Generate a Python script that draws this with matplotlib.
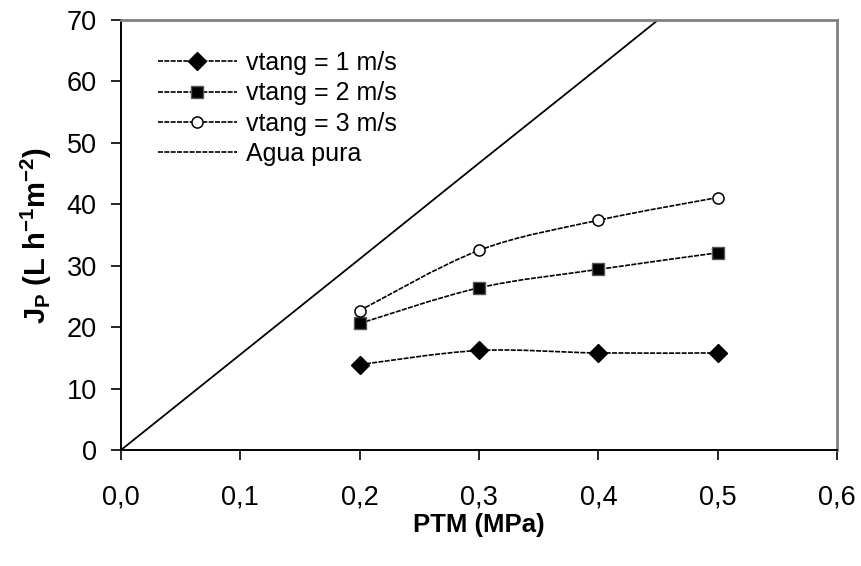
import matplotlib
matplotlib.use("Agg")
import matplotlib.pyplot as plt
import numpy as np
from matplotlib.path import Path
from matplotlib.patches import PathPatch
from matplotlib.lines import Line2D

plt.rcParams['font.family'] = ['Liberation Sans', 'DejaVu Sans']
plt.rcParams['mathtext.fontset'] = 'custom'
plt.rcParams['mathtext.rm'] = 'Liberation Sans'
plt.rcParams['mathtext.it'] = 'Liberation Sans:italic'
plt.rcParams['mathtext.bf'] = 'Liberation Sans:bold'

# Data
ptm = [0.2, 0.3, 0.4, 0.5]
v1 = [13.9, 16.2, 15.8, 15.8]
v2 = [20.6, 26.4, 29.4, 32.1]
v3 = [22.7, 32.5, 37.4, 41.1]
agua_x = [0.0, 0.2, 0.3, 0.4, 0.5]
agua_y = [0.0, 31.1, 46.7, 62.2, 77.8]
labels = ["vtang = 1 m/s", "vtang = 2 m/s", "vtang = 3 m/s", "Agua pura"]
xticks = [0.0, 0.1, 0.2, 0.3, 0.4, 0.5, 0.6]
xticklabels = ["0,0", "0,1", "0,2", "0,3", "0,4", "0,5", "0,6"]
yticks = [0, 10, 20, 30, 40, 50, 60, 70]


def smooth_path(xs, ys, t=1/6):
    pts = np.column_stack([xs, ys]).astype(float)
    n = len(pts)
    verts = [pts[0]]
    codes = [Path.MOVETO]
    for i in range(n - 1):
        p0 = pts[i - 1] if i > 0 else pts[i]
        p1 = pts[i]
        p2 = pts[i + 1]
        p3 = pts[i + 2] if i + 2 < n else pts[i + 1]
        c1 = p1 + (p2 - p0) * t
        c2 = p2 - (p3 - p1) * t
        verts += [c1, c2, p2]
        codes += [Path.CURVE4] * 3
    return Path(verts, codes)


fig = plt.figure(figsize=(8.61, 5.66), dpi=100)
ax = fig.add_axes([121/861, 1 - 450/566, (837 - 121)/861, (450 - 20)/566])

ls_series = (0, (3.0, 0.8))
series = [
    (v1, dict(marker='D', markersize=9.5, markerfacecolor='black', markeredgecolor='black')),
    (v2, dict(marker='s', markersize=8.5, markerfacecolor='black', markeredgecolor='#555555', markeredgewidth=1.0)),
    (v3, dict(marker='o', markersize=8, markerfacecolor='white', markeredgecolor='black', markeredgewidth=1.1)),
]
handles = []
for (vals, mk), lab in zip(series, labels[:3]):
    patch = PathPatch(smooth_path(ptm, vals), facecolor='none', edgecolor='black',
                      lw=1.2, linestyle=ls_series, zorder=2)
    ax.add_patch(patch)
    ax.plot(ptm, vals, linestyle='none', zorder=3, **mk)
    handles.append(Line2D([], [], color='black', lw=1.2, linestyle=ls_series, label=lab, **mk))

ax.plot(agua_x, agua_y, color='black', lw=1.3, zorder=2)
handles.append(Line2D([], [], color='black', lw=1.2, linestyle=ls_series, label=labels[3]))

ax.set_xlim(0, 0.6)
ax.set_ylim(0, 70)
ax.set_xticks(xticks)
ax.set_xticklabels(xticklabels)
ax.set_yticks(yticks)
ax.tick_params(axis='both', direction='out', length=7.5, width=1.2, labelsize=19.5, color='black')
ax.tick_params(axis='x', pad=17)
ax.tick_params(axis='y', pad=10)

for s in ['left', 'bottom']:
    ax.spines[s].set_color('black')
    ax.spines[s].set_linewidth(1.4)
for s in ['top', 'right']:
    ax.spines[s].set_color('#808080')
    ax.spines[s].set_linewidth(2.0)

ax.set_xlabel('PTM (MPa)', fontsize=18.5, fontweight='bold', labelpad=2)
ax.set_ylabel(r'$\mathbf{J_P}$ (L h$^{\mathbf{-1}}$m$^{\mathbf{-2}}$)', fontsize=21,
              fontweight='bold', labelpad=9)

leg = ax.legend(handles=handles, loc='upper left', bbox_to_anchor=(0.0377, 0.951),
                frameon=False, fontsize=18, handlelength=3.16, handletextpad=0.36,
                labelspacing=0.25, borderaxespad=0)

fig.savefig('out.png', dpi=100)
